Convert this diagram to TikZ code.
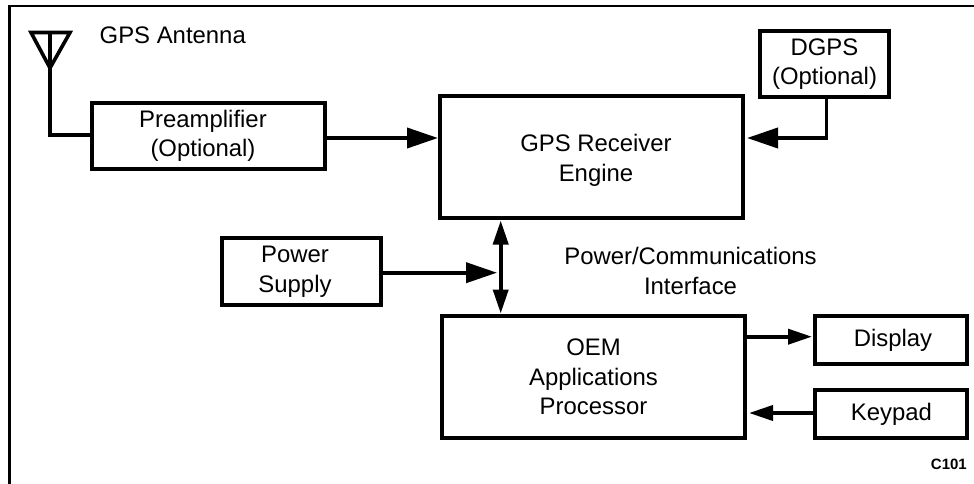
\documentclass[tikz,border=0pt]{standalone}
\usepackage{fontspec}
\setmainfont{Liberation Sans}
\usetikzlibrary{arrows.meta}
\tikzset{
  x=1pt,y=-1pt,
  blockbox/.style={draw=black,line width=4pt,fill=white,align=center,inner sep=0pt,font=\fontsize{23.9}{29.6}\selectfont,anchor=north west},
  label/.style={align=center,inner sep=0pt,font=\fontsize{23.9}{29.6}\selectfont},
  link/.style={line width=3.8pt,draw=black},
  flow/.style={link,-{Triangle[length=31pt,width=20pt]}},
  flowsmall/.style={link,-{Triangle[length=24pt,width=15pt]}},
  both/.style={link,{Triangle[length=24pt,width=15pt]}-{Triangle[length=24pt,width=15pt]}},
}
\newcommand{\blk}[6]{\node[blockbox,minimum width=#4-#2-4pt,minimum height=#5-#3-4pt] (#1) at (#2,#3) {#6};}
\begin{document}
\begin{tikzpicture}
\useasboundingbox (0,0) rectangle (974,484);
\fill[white] (0,0) rectangle (974,484);
\coordinate (frameA) at (9.8,484);
\coordinate (frameB) at (9.8,6);
\coordinate (frameC) at (974,6);
\draw[line width=2.7pt,line cap=butt,line join=miter] (frameA) -- (frameB) -- (frameC);
% blocks
\blk{pre}{90}{101}{327}{171}{Preamplifier\hspace*{11pt}\\(Optional)\hspace*{11pt}}
\blk{rx}{438}{94}{745}{220}{\hspace*{9pt}\rule{0pt}{24pt}GPS Receiver\\\hspace*{9pt}Engine}
\blk{dgps}{758}{29}{891}{99}{DGPS\\(Optional)}
\blk{pwr}{220}{236}{383}{307}{Power\hspace*{13pt}\\Supply\hspace*{13pt}}
\blk{oem}{440}{314}{747}{440}{OEM\\Applications\\Processor}
\blk{disp}{813}{314}{969}{366}{\hspace*{4pt}Display}
\blk{key}{813}{388}{969}{440}{\hspace*{1pt}Keypad}
% antenna
\coordinate (antTop) at (50,32.5);
\coordinate (antApex) at (50,68);
\coordinate (antL) at (31,32.5);
\coordinate (antR) at (70,32.5);
\draw[line width=3.6pt,line join=miter] (antL) -- (antR) -- (antApex) -- cycle;
\draw[link] (antTop) -- (antApex) -- (50,135) -- (pre.west |- 50,135);
% connectors
\coordinate (preOut) at (pre.east |- 0,138);
\coordinate (rxIn) at (rx.west |- 0,138);
\draw[flow] (preOut) -- (rxIn);
\coordinate (dgpsDown) at (826.4,97);
\coordinate (dgpsCorner) at (826.4,138);
\coordinate (rxInR) at (rx.east |- 0,138);
\draw[flow,shorten >=2pt] (dgpsDown) -- (dgpsCorner) -- (rxInR);
\coordinate (busTop) at (500.7,220.5);
\coordinate (busBot) at (500.7,313.5);
\draw[both] (busTop) -- (busBot);
\coordinate (busMid) at (497,272.7);
\draw[flow] (pwr.east |- 0,272.7) -- (busMid);
\coordinate (oemOutY) at (0,336.7);
\draw[flowsmall,shorten >=1pt] (oem.east |- oemOutY) -- (disp.west |- oemOutY);
\coordinate (oemInY) at (0,413);
\draw[flowsmall,shorten >=2pt] (key.west |- oemInY) -- (oem.east |- oemInY);
% labels
\node[label,anchor=west] (antLabel) at (99.5,35) {GPS Antenna};
\node[label] (ifaceLabel) at (690.5,271) {Power/Communications\\Interface};
\node[anchor=base east,inner sep=0pt,font=\fontsize{15}{18}\selectfont\bfseries] (code) at (967,469) {C101};
\end{tikzpicture}
\end{document}
